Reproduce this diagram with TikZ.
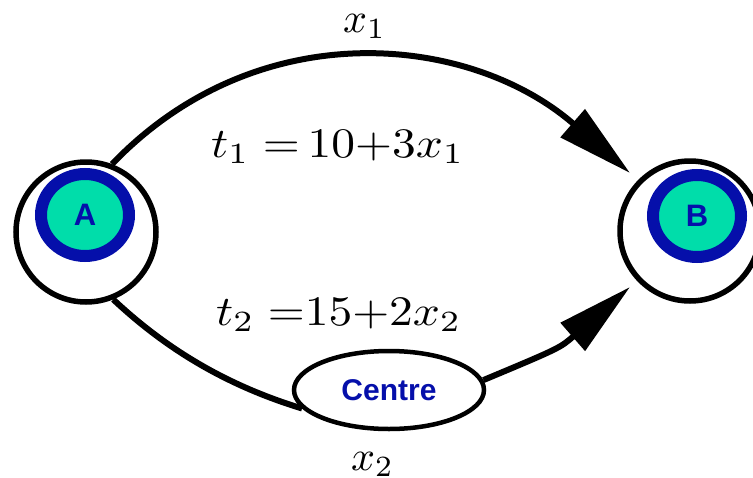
\documentclass[tikz,border=0pt]{standalone}
\usepackage{graphicx}
\usepackage{fontspec}
\setsansfont{Liberation Sans}
\usetikzlibrary{arrows.meta,shapes.geometric}
\definecolor{ringblue}{RGB}{5,15,170}
\definecolor{tealfill}{RGB}{0,221,170}
\newcommand{\bigmath}[1]{\scalebox{4.2}{$#1$}}
\newcommand{\widemath}[1]{\scalebox{4.75}[4.2]{$#1$}}
\tikzset{
  outer/.style={circle,draw=black,line width=5.5pt,minimum size=140pt,inner sep=0pt},
  token/.style={ellipse,draw=ringblue,fill=tealfill,line width=12pt,minimum width=88pt,minimum height=82pt,inner sep=0pt,
    text=ringblue,font=\sffamily\bfseries\fontsize{31}{34}\selectfont},
  centrebox/.style={ellipse,draw=black,line width=4.5pt,minimum width=190pt,minimum height=78pt,inner sep=0pt,
    text=ringblue,font=\sffamily\bfseries\fontsize{30}{34}\selectfont},
  link/.style={line width=6pt},
  bigtip/.style={-{Triangle[length=76pt,width=36pt]}},
  lab/.style={anchor=base west,inner sep=0pt}
}
\begin{document}
\begin{tikzpicture}[x=1pt,y=-1pt]
\useasboundingbox (0,0) rectangle (753,477);
\node[outer] (A) at (86,232) {};
\node[outer] (B) at (690,231) {};
\node[token] (a) at (85,215) {A};
\node[token] (b) at (697,216) {B};
\node[centrebox] (C) at (389,390) {Centre};
\coordinate (tipU) at (630,173);
\coordinate (tipL) at (630,287);
\draw[link,bigtip] (A.69) .. controls (258,12) and (470,34) .. (tipU);
\draw[link] (A.-68) .. controls (165,348) and (225,385) .. (C.192);
\draw[link,bigtip] (C.6) .. controls (560,348) .. (tipL);
\node[lab] (x1) at (343,32) {\bigmath{x_1}};
\node[lab] (t1) at (211,157) {\widemath{t_1\;{=}\,10{+}3x_1}};
\node[lab] (t2) at (216,325) {\widemath{t_2\;{=}15{+}2x_2}};
\node[lab] (x2) at (351,470) {\bigmath{x_2}};
\end{tikzpicture}
\end{document}
